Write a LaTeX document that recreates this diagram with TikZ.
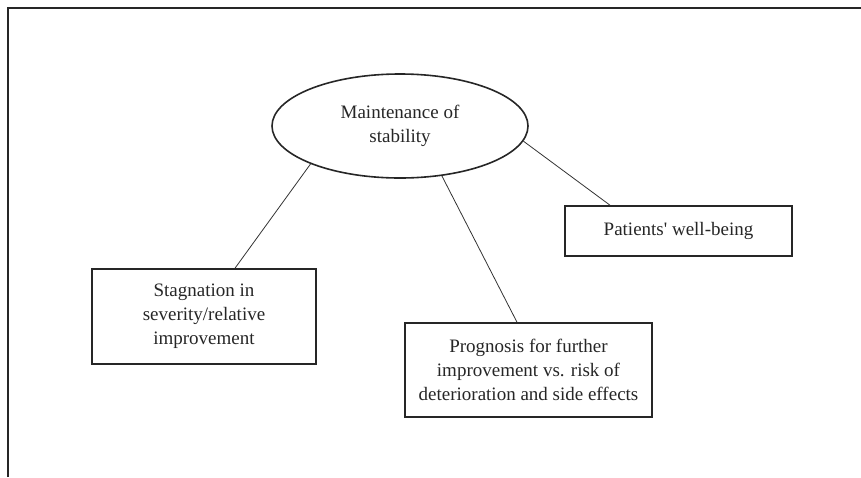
\documentclass[tikz,border=0pt]{standalone}
\usepackage{fontspec}
\setmainfont{Liberation Serif}
\usetikzlibrary{shapes.geometric}

\begin{document}
\begin{tikzpicture}[x=1pt, y=1pt,
    caja/.style={draw=black!85, line width=1.6pt, inner sep=0pt, align=center,
                 font=\fontsize{19}{24}\selectfont, text=black!85},
    linea/.style={black!80, line width=0.8pt}]

    \useasboundingbox (0,0) rectangle (861,-477);

    \draw[black!85, line width=1.8pt] (8,-477) -- (8,-8) -- (861,-8); %marco

    %nodo central
    \node[caja, ellipse, minimum width=256, minimum height=104] (estab) at (400,-126)
    {Maintenance of\\stability};

    %cajas
    \node[caja, rectangle, minimum width=224, minimum height=95] (stag) at (204,-316.5)
    {Stagnation in\\severity/relative\\improvement};
    \node[caja, rectangle, minimum width=247, minimum height=94] (prog) at (528.5,-370)
    {Prognosis for further\\improvement vs. risk of\\deterioration and side effects};
    \node[caja, rectangle, minimum width=227, minimum height=50] (pat) at (678.5,-231)
    {Patients\textquotesingle{} well-being};

    %lineas
    \draw[linea] (estab.203) -- ([xshift=31]stag.north);
    \draw[linea] (estab.310) -- ([xshift=-11.5]prog.north);
    \draw[linea] (estab.353.5) -- ([xshift=-68.5]pat.north);

\end{tikzpicture}
\end{document}
